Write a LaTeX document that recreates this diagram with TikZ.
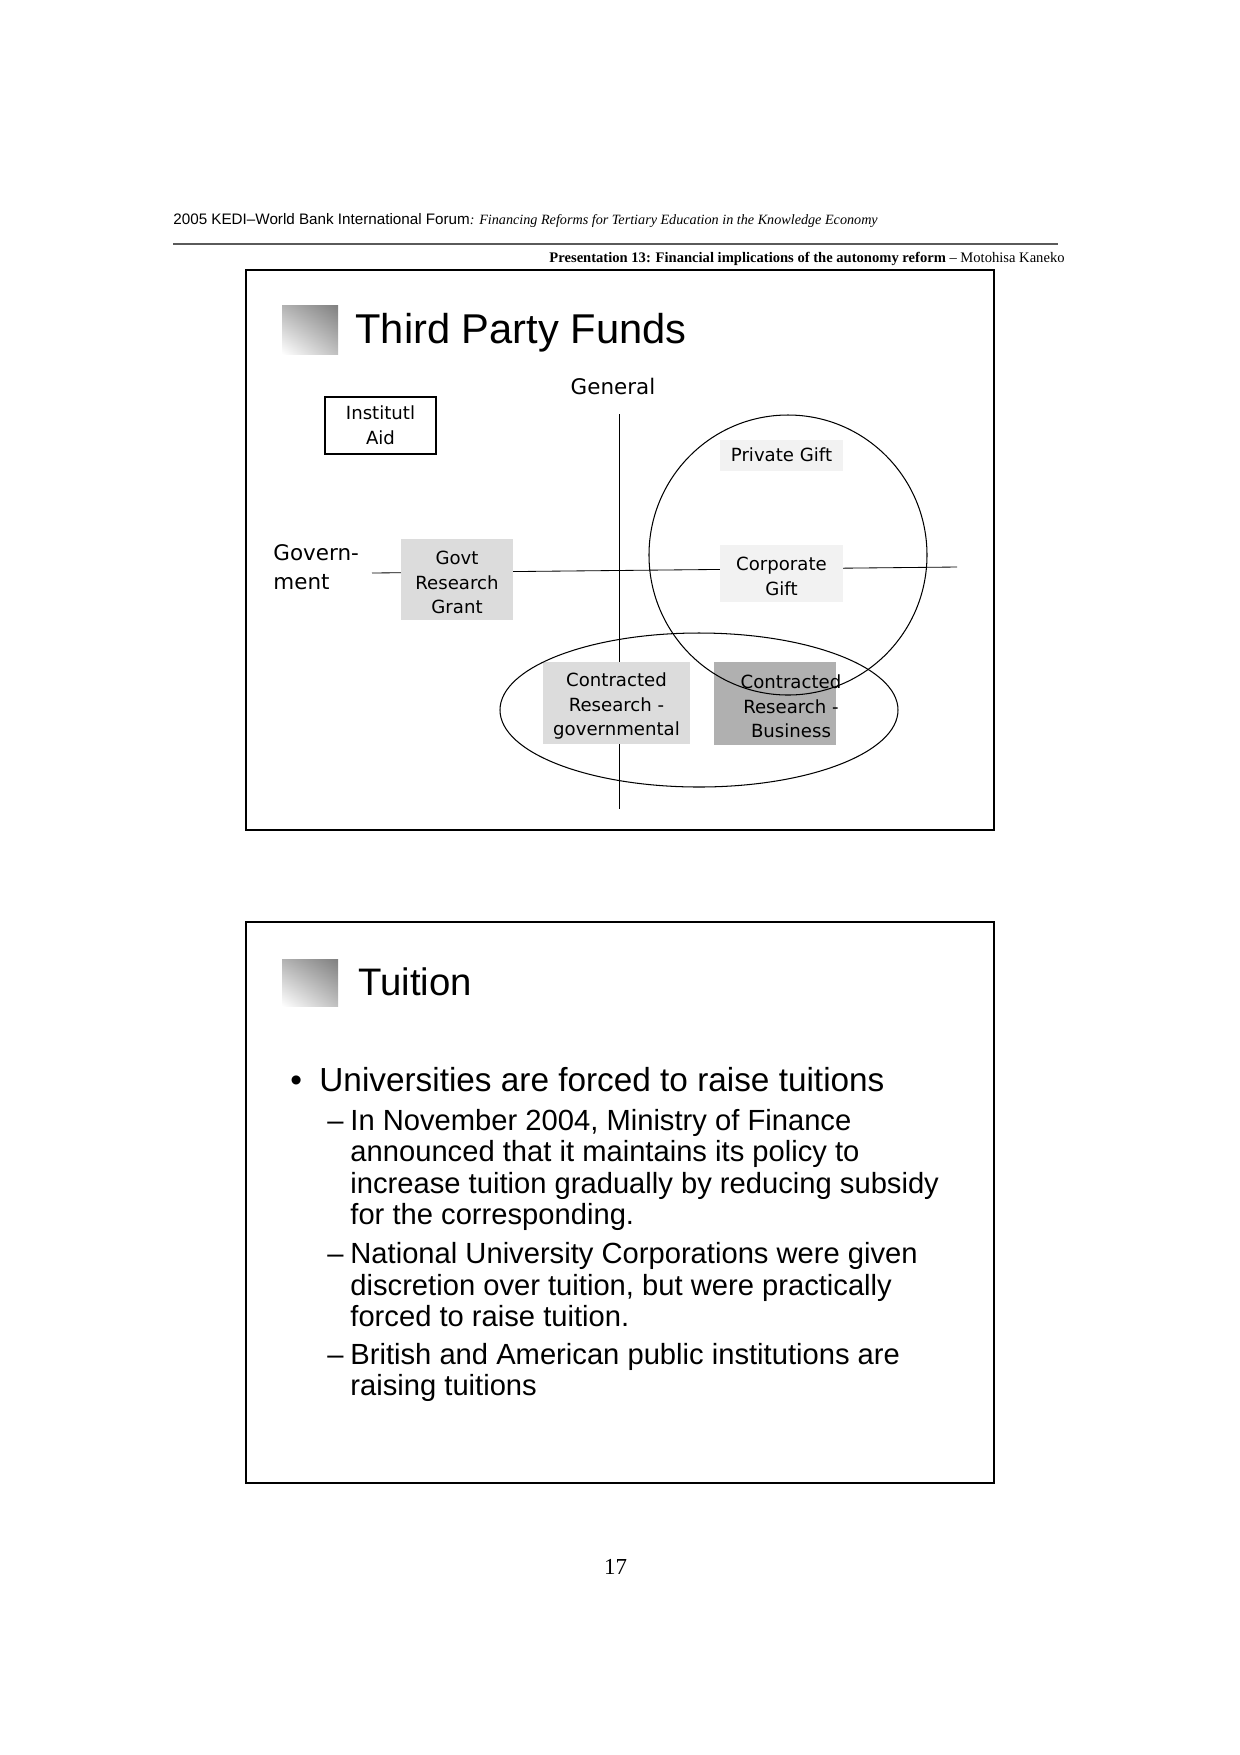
\documentclass[tikz,border=0pt]{standalone}
\usepackage{fontspec}
\setmainfont{Liberation Serif}
\setsansfont{Liberation Sans}
\newfontfamily\dejavu{DejaVu Sans}
\usepackage{xcolor}
\usepackage{tikz}
\usetikzlibrary{shadings}
\definecolor{lightbox}{HTML}{F2F2F2}
\definecolor{midbox}{HTML}{DCDCDC}
\definecolor{darkbox}{HTML}{B0B0B0}
\definecolor{rule}{HTML}{5A5A5A}
\newdimen\pxu \pxu=0.48pt
\newcommand\boxstrut{\rule{0pt}{9.5pt}}

\tikzset{
  slideframe/.style={draw, line width=1.1pt},
  fundbox/.style={align=center, inner sep=0pt, line width=0.5pt,
    font=\dejavu\fontsize{8.7}{11.8}\selectfont},
  plainbox/.style={inner sep=0pt},
  axislabel/.style={inner sep=0pt, font=\dejavu\fontsize{10.3}{14}\selectfont},
  slidetitle/.style={anchor=base west, inner sep=0pt, font=\sffamily\fontsize{20}{24}\selectfont},
  bodyline/.style={anchor=base west, inner sep=0pt, font=\sffamily\fontsize{14}{15}\selectfont},
  titlemark/.style={upper left=black!30, upper right=black!50, lower left=white, lower right=black!25},
}

\begin{document}
\begin{tikzpicture}[x=0.48pt, y=-0.48pt]
  \useasboundingbox (0,0) rectangle (1240,1755);

  % page header
  \node[anchor=base west, inner sep=0pt, font=\fontsize{7.3}{9}\selectfont] (forum) at (173,224)
    {\sffamily 2005 KEDI--World Bank International Forum\rmfamily\itshape\fontsize{6.8}{9}\selectfont: Financing Reforms for Tertiary Education in the Knowledge Economy};
  \draw[rule, line width=0.5pt] (173,244) -- (1058,244);
  \node[anchor=base east, inner sep=0pt, font=\fontsize{7.0}{9}\selectfont] (pres) at (1065,262)
    {\textbf{Presentation 13: Financial implications of the autonomy reform} -- Motohisa Kaneko};

  % slide 1
  \draw[slideframe] (246,270) rectangle (994,830);
  \shade[titlemark] (282,305) rectangle (338,354);
  \node[slidetitle] (title1) at (355,343) {Third Party Funds};

  \coordinate (vtop) at (619,414);
  \coordinate (vbot) at (619,809);
  \coordinate (hleft) at (372,573);
  \coordinate (hright) at (957,567);
  \draw[line width=0.4pt] (vtop) -- (vbot);
  \draw[line width=0.4pt] (hleft) -- (hright);

  \node[axislabel] (general) at (613,386) {General};
  \node[axislabel, anchor=west, align=left] (govt) at (273,567.5) {Govern-\\ment};

  \node[fundbox, draw, fill=white, minimum width=111\pxu, minimum height=57\pxu] (aid) at (380.5,425.5) {Institutl\\Aid};
  \node[fundbox, fill=midbox, minimum width=112\pxu, minimum height=81\pxu] (grant) at (457,579.5) {\boxstrut Govt\\Research\\Grant};
  \node[fundbox, fill=lightbox, minimum width=123\pxu, minimum height=31\pxu] (private) at (781.5,455) {Private Gift};
  \node[fundbox, fill=lightbox, minimum width=123\pxu, minimum height=57\pxu] (corporate) at (781.5,573.5) {\boxstrut Corporate\\Gift};
  \node[fundbox, fill=midbox, minimum width=147\pxu, minimum height=82\pxu] (crgov) at (616.5,703) {\boxstrut Contracted\\Research -\\governmental};
  \node[plainbox, fill=darkbox, minimum width=122\pxu, minimum height=83\pxu] (crbus) at (775,703.5) {};
  \node[fundbox] (crbustext) at ([xshift=16\pxu]crbus.center) {\boxstrut Contracted\\Research -\\Business};

  \draw[line width=0.5pt] (788,555) ellipse [x radius=139, y radius=140];
  \draw[line width=0.5pt] (699,710) ellipse [x radius=199, y radius=77];

  % slide 2
  \draw[slideframe] (246,922) rectangle (994,1483);
  \shade[titlemark] (282,959) rectangle (338,1006);
  \node[slidetitle, font=\sffamily\fontsize{18.4}{22}\selectfont] (title2) at (358,995) {Tuition};

  \node[anchor=base west, inner sep=0pt, font=\sffamily\fontsize{16}{18}\selectfont] (bullet) at (290,1091) {•};
  \node[anchor=base west, inner sep=0pt, font=\sffamily\fontsize{16}{18}\selectfont] (main) at (319,1091) {Universities are forced to raise tuitions};

  \node[bodyline] (dasha) at (327,1130) {--};
  \node[bodyline] (a1) at (350,1130) {In November 2004, Ministry of Finance};
  \node[bodyline] (a2) at (350,1161.5) {announced that it maintains its policy to};
  \node[bodyline] (a3) at (350,1193) {increase tuition gradually by reducing subsidy};
  \node[bodyline] (a4) at (350,1224) {for the corresponding.};
  \node[bodyline] (dashb) at (327,1263) {--};
  \node[bodyline] (b1) at (350,1263) {National University Corporations were given};
  \node[bodyline] (b2) at (350,1295) {discretion over tuition, but were practically};
  \node[bodyline] (b3) at (350,1326) {forced to raise tuition.};
  \node[bodyline] (dashc) at (327,1364) {--};
  \node[bodyline] (c1) at (350,1364) {British and American public institutions are};
  \node[bodyline] (c2) at (350,1395) {raising tuitions};

  % page number
  \node[anchor=base, inner sep=0pt, font=\rmfamily\fontsize{11}{13}\selectfont] (pageno) at (615.5,1574.5) {17};
\end{tikzpicture}
\end{document}
